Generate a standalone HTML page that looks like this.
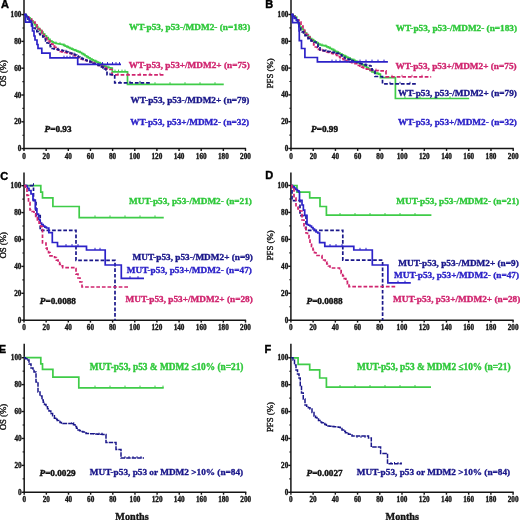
<!DOCTYPE html><html><head><meta charset="utf-8"><style>html,body{margin:0;padding:0;background:#fff;width:520px;height:520px;overflow:hidden}svg{display:block;will-change:transform}</style></head><body>
<svg width="520" height="520" viewBox="0 0 520 520" font-family='"Liberation Serif", serif'>
<rect width="520" height="520" fill="#fff"/>
<line x1="24.00" y1="0.00" x2="24.00" y2="149.20" stroke="#151515" stroke-width="1.5"/>
<line x1="23.30" y1="148.60" x2="246.10" y2="148.60" stroke="#151515" stroke-width="1.5"/>
<line x1="21.40" y1="148.60" x2="24.00" y2="148.60" stroke="#151515" stroke-width="1.4"/>
<text x="21.40" y="151.10" fill="#151515" stroke="#151515" stroke-width="0.35" font-size="7.2" font-weight="bold" text-anchor="end" >0</text>
<line x1="21.40" y1="121.80" x2="24.00" y2="121.80" stroke="#151515" stroke-width="1.4"/>
<text x="21.40" y="124.30" fill="#151515" stroke="#151515" stroke-width="0.35" font-size="7.2" font-weight="bold" text-anchor="end" >20</text>
<line x1="21.40" y1="95.00" x2="24.00" y2="95.00" stroke="#151515" stroke-width="1.4"/>
<text x="21.40" y="97.50" fill="#151515" stroke="#151515" stroke-width="0.35" font-size="7.2" font-weight="bold" text-anchor="end" >40</text>
<line x1="21.40" y1="68.20" x2="24.00" y2="68.20" stroke="#151515" stroke-width="1.4"/>
<text x="21.40" y="70.70" fill="#151515" stroke="#151515" stroke-width="0.35" font-size="7.2" font-weight="bold" text-anchor="end" >60</text>
<line x1="21.40" y1="41.40" x2="24.00" y2="41.40" stroke="#151515" stroke-width="1.4"/>
<text x="21.40" y="43.90" fill="#151515" stroke="#151515" stroke-width="0.35" font-size="7.2" font-weight="bold" text-anchor="end" >80</text>
<line x1="21.40" y1="14.60" x2="24.00" y2="14.60" stroke="#151515" stroke-width="1.4"/>
<text x="21.40" y="17.10" fill="#151515" stroke="#151515" stroke-width="0.35" font-size="7.2" font-weight="bold" text-anchor="end" >100</text>
<line x1="22.40" y1="135.20" x2="24.00" y2="135.20" stroke="#151515" stroke-width="1.1"/>
<line x1="22.40" y1="108.40" x2="24.00" y2="108.40" stroke="#151515" stroke-width="1.1"/>
<line x1="22.40" y1="81.60" x2="24.00" y2="81.60" stroke="#151515" stroke-width="1.1"/>
<line x1="22.40" y1="54.80" x2="24.00" y2="54.80" stroke="#151515" stroke-width="1.1"/>
<line x1="22.40" y1="28.00" x2="24.00" y2="28.00" stroke="#151515" stroke-width="1.1"/>
<line x1="24.00" y1="148.60" x2="24.00" y2="151.00" stroke="#151515" stroke-width="1.4"/>
<text x="24.00" y="158.60" fill="#151515" stroke="#151515" stroke-width="0.35" font-size="7.2" font-weight="bold" text-anchor="middle" >0</text>
<line x1="46.15" y1="148.60" x2="46.15" y2="151.00" stroke="#151515" stroke-width="1.4"/>
<text x="46.15" y="158.60" fill="#151515" stroke="#151515" stroke-width="0.35" font-size="7.2" font-weight="bold" text-anchor="middle" >20</text>
<line x1="68.30" y1="148.60" x2="68.30" y2="151.00" stroke="#151515" stroke-width="1.4"/>
<text x="68.30" y="158.60" fill="#151515" stroke="#151515" stroke-width="0.35" font-size="7.2" font-weight="bold" text-anchor="middle" >40</text>
<line x1="90.45" y1="148.60" x2="90.45" y2="151.00" stroke="#151515" stroke-width="1.4"/>
<text x="90.45" y="158.60" fill="#151515" stroke="#151515" stroke-width="0.35" font-size="7.2" font-weight="bold" text-anchor="middle" >60</text>
<line x1="112.60" y1="148.60" x2="112.60" y2="151.00" stroke="#151515" stroke-width="1.4"/>
<text x="112.60" y="158.60" fill="#151515" stroke="#151515" stroke-width="0.35" font-size="7.2" font-weight="bold" text-anchor="middle" >80</text>
<line x1="134.75" y1="148.60" x2="134.75" y2="151.00" stroke="#151515" stroke-width="1.4"/>
<text x="134.75" y="158.60" fill="#151515" stroke="#151515" stroke-width="0.35" font-size="7.2" font-weight="bold" text-anchor="middle" >100</text>
<line x1="156.90" y1="148.60" x2="156.90" y2="151.00" stroke="#151515" stroke-width="1.4"/>
<text x="156.90" y="158.60" fill="#151515" stroke="#151515" stroke-width="0.35" font-size="7.2" font-weight="bold" text-anchor="middle" >120</text>
<line x1="179.05" y1="148.60" x2="179.05" y2="151.00" stroke="#151515" stroke-width="1.4"/>
<text x="179.05" y="158.60" fill="#151515" stroke="#151515" stroke-width="0.35" font-size="7.2" font-weight="bold" text-anchor="middle" >140</text>
<line x1="201.20" y1="148.60" x2="201.20" y2="151.00" stroke="#151515" stroke-width="1.4"/>
<text x="201.20" y="158.60" fill="#151515" stroke="#151515" stroke-width="0.35" font-size="7.2" font-weight="bold" text-anchor="middle" >160</text>
<line x1="223.35" y1="148.60" x2="223.35" y2="151.00" stroke="#151515" stroke-width="1.4"/>
<text x="223.35" y="158.60" fill="#151515" stroke="#151515" stroke-width="0.35" font-size="7.2" font-weight="bold" text-anchor="middle" >180</text>
<line x1="245.50" y1="148.60" x2="245.50" y2="151.00" stroke="#151515" stroke-width="1.4"/>
<text x="245.50" y="158.60" fill="#151515" stroke="#151515" stroke-width="0.35" font-size="7.2" font-weight="bold" text-anchor="middle" >200</text>
<text x="0" y="0" fill="#151515" font-size="8.8" font-weight="normal" stroke="#151515" stroke-width="0.4" text-anchor="middle" transform="translate(5.80,73.30) rotate(-90)">OS (%)</text>
<text x="1.00" y="8.00" fill="#000" stroke="#000" stroke-width="0.4" font-size="11" font-weight="bold" font-family="Liberation Sans, sans-serif">A</text>
<path d="M24.00 14.60 H25.50 V15.70 H27.00 V16.80 H28.50 V17.90 H30.00 V19.00 H31.50 V20.88 H33.00 V22.75 H34.50 V24.62 H36.00 V26.50 H37.75 V28.38 H39.50 V30.25 H41.25 V32.12 H43.00 V34.00 H44.75 V35.75 H46.50 V37.50 H48.25 V39.25 H50.00 V41.00 H51.50 V41.75 H53.00 V42.50 H54.50 V43.00 H56.00 V43.50 H57.50 V43.75 H59.00 V44.00 H60.50 V44.25 H62.00 V44.50 H63.60 V45.30 H65.20 V46.10 H66.80 V46.90 H68.40 V47.70 H70.00 V48.50 H71.67 V49.17 H73.33 V49.83 H75.00 V50.50 H76.67 V51.17 H78.33 V51.83 H80.00 V52.50 H81.67 V53.58 H83.33 V54.67 H85.00 V55.75 H86.67 V56.83 H88.33 V57.92 H90.00 V59.00 H91.67 V59.78 H93.33 V60.57 H95.00 V61.35 H96.67 V62.13 H98.33 V62.92 H100.00 V63.70 H101.50 V64.53 H103.00 V65.35 H104.50 V66.17 H106.00 V67.00 H107.58 V67.38 H109.15 V67.75 H110.72 V68.12 H112.30 V68.50 H112.30 V71.80 H127.50 V84.40 H223.75" fill="none" stroke="#3fcc48" stroke-width="1.7" stroke-linejoin="miter" stroke-linecap="butt" />
<line x1="44.00" y1="33.00" x2="44.00" y2="35.00" stroke="#3fcc48" stroke-width="0.9"/>
<line x1="48.00" y1="37.00" x2="48.00" y2="39.00" stroke="#3fcc48" stroke-width="0.9"/>
<line x1="52.00" y1="40.00" x2="52.00" y2="42.00" stroke="#3fcc48" stroke-width="0.9"/>
<line x1="56.00" y1="41.50" x2="56.00" y2="43.50" stroke="#3fcc48" stroke-width="0.9"/>
<line x1="60.00" y1="42.17" x2="60.00" y2="44.17" stroke="#3fcc48" stroke-width="0.9"/>
<line x1="64.00" y1="43.50" x2="64.00" y2="45.50" stroke="#3fcc48" stroke-width="0.9"/>
<line x1="68.00" y1="45.50" x2="68.00" y2="47.50" stroke="#3fcc48" stroke-width="0.9"/>
<line x1="72.00" y1="47.30" x2="72.00" y2="49.30" stroke="#3fcc48" stroke-width="0.9"/>
<line x1="76.00" y1="48.90" x2="76.00" y2="50.90" stroke="#3fcc48" stroke-width="0.9"/>
<line x1="80.00" y1="50.50" x2="80.00" y2="52.50" stroke="#3fcc48" stroke-width="0.9"/>
<line x1="84.00" y1="53.10" x2="84.00" y2="55.10" stroke="#3fcc48" stroke-width="0.9"/>
<line x1="88.00" y1="55.70" x2="88.00" y2="57.70" stroke="#3fcc48" stroke-width="0.9"/>
<line x1="92.00" y1="57.94" x2="92.00" y2="59.94" stroke="#3fcc48" stroke-width="0.9"/>
<line x1="96.00" y1="59.82" x2="96.00" y2="61.82" stroke="#3fcc48" stroke-width="0.9"/>
<line x1="100.00" y1="61.70" x2="100.00" y2="63.70" stroke="#3fcc48" stroke-width="0.9"/>
<line x1="104.00" y1="63.90" x2="104.00" y2="65.90" stroke="#3fcc48" stroke-width="0.9"/>
<line x1="108.00" y1="65.48" x2="108.00" y2="67.48" stroke="#3fcc48" stroke-width="0.9"/>
<path d="M24.00 14.60 H25.50 V15.70 H27.00 V16.80 H28.50 V17.90 H30.00 V19.00 H31.50 V20.50 H33.00 V22.00 H35.00 V24.75 H37.00 V27.50 H38.50 V29.00 H40.00 V30.50 H42.00 V33.50 H44.00 V36.50 H45.50 V38.00 H47.00 V39.50 H48.50 V41.00 H50.00 V42.50 H51.50 V44.12 H53.00 V45.75 H54.50 V47.38 H56.00 V49.00 H58.00 V50.25 H60.00 V51.50 H61.67 V51.83 H63.33 V52.17 H65.00 V52.50 H66.75 V52.88 H68.50 V53.25 H70.25 V53.62 H72.00 V54.00 H73.50 V55.00 H75.00 V56.00 H76.50 V57.00 H78.00 V58.00 H79.50 V58.50 H81.00 V59.00 H82.50 V59.50 H84.00 V60.00 H85.50 V60.50 H87.00 V61.00 H88.50 V61.50 H90.00 V62.00 H91.67 V62.67 H93.33 V63.33 H95.00 V64.00 H96.67 V64.67 H98.33 V65.33 H100.00 V66.00 H101.60 V66.70 H103.20 V67.40 H104.80 V68.10 H106.40 V68.80 H108.00 V69.50 H112.00 V74.80 H164.40" fill="none" stroke="#d0256f" stroke-width="1.7" stroke-dasharray="3.7 1.9" stroke-linejoin="miter" stroke-linecap="butt" />
<line x1="46.00" y1="36.50" x2="46.00" y2="38.50" stroke="#d0256f" stroke-width="0.9"/>
<line x1="54.00" y1="44.83" x2="54.00" y2="46.83" stroke="#d0256f" stroke-width="0.9"/>
<line x1="62.00" y1="49.90" x2="62.00" y2="51.90" stroke="#d0256f" stroke-width="0.9"/>
<line x1="70.00" y1="51.57" x2="70.00" y2="53.57" stroke="#d0256f" stroke-width="0.9"/>
<line x1="78.00" y1="56.00" x2="78.00" y2="58.00" stroke="#d0256f" stroke-width="0.9"/>
<line x1="86.00" y1="58.67" x2="86.00" y2="60.67" stroke="#d0256f" stroke-width="0.9"/>
<line x1="94.00" y1="61.60" x2="94.00" y2="63.60" stroke="#d0256f" stroke-width="0.9"/>
<line x1="102.00" y1="64.88" x2="102.00" y2="66.88" stroke="#d0256f" stroke-width="0.9"/>
<line x1="106.00" y1="66.62" x2="106.00" y2="68.62" stroke="#d0256f" stroke-width="0.9"/>
<line x1="118.00" y1="72.80" x2="118.00" y2="74.80" stroke="#d0256f" stroke-width="0.9"/>
<line x1="128.00" y1="72.80" x2="128.00" y2="74.80" stroke="#d0256f" stroke-width="0.9"/>
<line x1="140.00" y1="72.80" x2="140.00" y2="74.80" stroke="#d0256f" stroke-width="0.9"/>
<line x1="150.00" y1="72.80" x2="150.00" y2="74.80" stroke="#d0256f" stroke-width="0.9"/>
<line x1="160.00" y1="72.80" x2="160.00" y2="74.80" stroke="#d0256f" stroke-width="0.9"/>
<path d="M24.00 14.60 H26.00 V17.30 H28.00 V20.00 H29.50 V22.00 H31.00 V24.00 H32.25 V26.00 H33.50 V28.00 H35.17 V29.83 H36.83 V31.67 H38.50 V33.50 H39.93 V34.67 H41.37 V35.83 H42.80 V37.00 H44.20 V39.00 H45.60 V41.00 H47.00 V43.00 H48.67 V44.83 H50.33 V46.67 H52.00 V48.50 H53.67 V48.83 H55.33 V49.17 H57.00 V49.50 H58.67 V49.83 H60.33 V50.17 H62.00 V50.50 H63.60 V51.00 H65.20 V51.50 H66.80 V52.00 H68.40 V52.50 H70.00 V53.00 H71.67 V53.67 H73.33 V54.33 H75.00 V55.00 H76.67 V56.00 H78.33 V57.00 H80.00 V58.00 H81.67 V58.67 H83.33 V59.33 H85.00 V60.00 H86.67 V60.67 H88.33 V61.33 H90.00 V62.00 H91.67 V62.67 H93.33 V63.33 H95.00 V64.00 H96.67 V64.67 H98.33 V65.33 H100.00 V66.00 H101.50 V67.00 H103.00 V68.00 H104.50 V69.00 H106.00 V70.00 H107.00 V74.70 H114.70 V82.90 H150.60" fill="none" stroke="#1a178a" stroke-width="1.7" stroke-dasharray="3.7 1.9" stroke-linejoin="miter" stroke-linecap="butt" />
<line x1="50.00" y1="44.30" x2="50.00" y2="46.30" stroke="#1a178a" stroke-width="0.9"/>
<line x1="58.00" y1="47.70" x2="58.00" y2="49.70" stroke="#1a178a" stroke-width="0.9"/>
<line x1="66.00" y1="49.75" x2="66.00" y2="51.75" stroke="#1a178a" stroke-width="0.9"/>
<line x1="74.00" y1="52.60" x2="74.00" y2="54.60" stroke="#1a178a" stroke-width="0.9"/>
<line x1="82.00" y1="56.80" x2="82.00" y2="58.80" stroke="#1a178a" stroke-width="0.9"/>
<line x1="90.00" y1="60.00" x2="90.00" y2="62.00" stroke="#1a178a" stroke-width="0.9"/>
<line x1="98.00" y1="63.20" x2="98.00" y2="65.20" stroke="#1a178a" stroke-width="0.9"/>
<line x1="104.00" y1="66.67" x2="104.00" y2="68.67" stroke="#1a178a" stroke-width="0.9"/>
<line x1="110.00" y1="72.70" x2="110.00" y2="74.70" stroke="#1a178a" stroke-width="0.9"/>
<line x1="120.00" y1="80.90" x2="120.00" y2="82.90" stroke="#1a178a" stroke-width="0.9"/>
<line x1="130.00" y1="80.90" x2="130.00" y2="82.90" stroke="#1a178a" stroke-width="0.9"/>
<line x1="140.00" y1="80.90" x2="140.00" y2="82.90" stroke="#1a178a" stroke-width="0.9"/>
<path d="M24.00 14.60 H25.75 V16.55 H27.50 V18.50 H29.25 V20.45 H31.00 V22.40" fill="none" stroke="#2c22c8" stroke-width="1.5" stroke-linejoin="miter" stroke-linecap="butt" />
<path d="M24.00 14.60 H25.50 V22.20 H31.50 V26.00 H32.50 V31.00 H34.00 V36.00 H35.00 V40.00 H37.00 V44.50 H38.00 V48.30 H41.80 V53.10 H50.00 V57.90 H77.70 V64.30 H121.00" fill="none" stroke="#2c22c8" stroke-width="1.7" stroke-linejoin="miter" stroke-linecap="butt" />
<line x1="64.00" y1="55.70" x2="64.00" y2="57.90" stroke="#2c22c8" stroke-width="1.0"/>
<line x1="67.00" y1="55.70" x2="67.00" y2="57.90" stroke="#2c22c8" stroke-width="1.0"/>
<line x1="70.00" y1="55.70" x2="70.00" y2="57.90" stroke="#2c22c8" stroke-width="1.0"/>
<line x1="73.00" y1="55.70" x2="73.00" y2="57.90" stroke="#2c22c8" stroke-width="1.0"/>
<line x1="102.50" y1="62.10" x2="102.50" y2="64.30" stroke="#2c22c8" stroke-width="1.0"/>
<line x1="107.50" y1="62.10" x2="107.50" y2="64.30" stroke="#2c22c8" stroke-width="1.0"/>
<line x1="112.50" y1="62.10" x2="112.50" y2="64.30" stroke="#2c22c8" stroke-width="1.0"/>
<line x1="116.00" y1="62.10" x2="116.00" y2="64.30" stroke="#2c22c8" stroke-width="1.0"/>
<line x1="119.50" y1="62.10" x2="119.50" y2="64.30" stroke="#2c22c8" stroke-width="1.0"/>
<line x1="140.00" y1="82.20" x2="140.00" y2="84.40" stroke="#3fcc48" stroke-width="1.0"/>
<line x1="155.00" y1="82.20" x2="155.00" y2="84.40" stroke="#3fcc48" stroke-width="1.0"/>
<line x1="170.00" y1="82.20" x2="170.00" y2="84.40" stroke="#3fcc48" stroke-width="1.0"/>
<line x1="185.00" y1="82.20" x2="185.00" y2="84.40" stroke="#3fcc48" stroke-width="1.0"/>
<line x1="200.00" y1="82.20" x2="200.00" y2="84.40" stroke="#3fcc48" stroke-width="1.0"/>
<line x1="215.00" y1="82.20" x2="215.00" y2="84.40" stroke="#3fcc48" stroke-width="1.0"/>
<line x1="115.00" y1="69.60" x2="115.00" y2="71.80" stroke="#3fcc48" stroke-width="1.0"/>
<line x1="118.50" y1="69.60" x2="118.50" y2="71.80" stroke="#3fcc48" stroke-width="1.0"/>
<line x1="122.00" y1="69.60" x2="122.00" y2="71.80" stroke="#3fcc48" stroke-width="1.0"/>
<line x1="125.00" y1="69.60" x2="125.00" y2="71.80" stroke="#3fcc48" stroke-width="1.0"/>
<text x="128.90" y="29.90" fill="#2ec83a" stroke="#2ec83a" stroke-width="0.35" font-size="9.25" font-weight="bold" text-anchor="start" >WT-p53, p53-/MDM2- (n=183)</text>
<text x="128.70" y="68.25" fill="#d0256f" stroke="#d0256f" stroke-width="0.35" font-size="9.25" font-weight="bold" text-anchor="start" >WT-p53, p53+/MDM2+ (n=75)</text>
<text x="130.50" y="102.60" fill="#1a178a" stroke="#1a178a" stroke-width="0.35" font-size="9.25" font-weight="bold" text-anchor="start" >WT-p53, p53-/MDM2+ (n=79)</text>
<text x="130.30" y="124.60" fill="#2c22c8" stroke="#2c22c8" stroke-width="0.35" font-size="9.25" font-weight="bold" text-anchor="start" >WT-p53, p53+/MDM2- (n=32)</text>
<text x="44.60" y="131.90" fill="#111" stroke="#111" stroke-width="0.4" font-size="9.2" font-weight="bold"><tspan font-style="italic">P</tspan>=0.93</text>
<line x1="291.00" y1="0.00" x2="291.00" y2="149.10" stroke="#151515" stroke-width="1.5"/>
<line x1="290.30" y1="148.50" x2="513.80" y2="148.50" stroke="#151515" stroke-width="1.5"/>
<line x1="288.40" y1="148.50" x2="291.00" y2="148.50" stroke="#151515" stroke-width="1.4"/>
<text x="288.40" y="151.00" fill="#151515" stroke="#151515" stroke-width="0.35" font-size="7.2" font-weight="bold" text-anchor="end" >0</text>
<line x1="288.40" y1="121.70" x2="291.00" y2="121.70" stroke="#151515" stroke-width="1.4"/>
<text x="288.40" y="124.20" fill="#151515" stroke="#151515" stroke-width="0.35" font-size="7.2" font-weight="bold" text-anchor="end" >20</text>
<line x1="288.40" y1="94.90" x2="291.00" y2="94.90" stroke="#151515" stroke-width="1.4"/>
<text x="288.40" y="97.40" fill="#151515" stroke="#151515" stroke-width="0.35" font-size="7.2" font-weight="bold" text-anchor="end" >40</text>
<line x1="288.40" y1="68.10" x2="291.00" y2="68.10" stroke="#151515" stroke-width="1.4"/>
<text x="288.40" y="70.60" fill="#151515" stroke="#151515" stroke-width="0.35" font-size="7.2" font-weight="bold" text-anchor="end" >60</text>
<line x1="288.40" y1="41.30" x2="291.00" y2="41.30" stroke="#151515" stroke-width="1.4"/>
<text x="288.40" y="43.80" fill="#151515" stroke="#151515" stroke-width="0.35" font-size="7.2" font-weight="bold" text-anchor="end" >80</text>
<line x1="288.40" y1="14.50" x2="291.00" y2="14.50" stroke="#151515" stroke-width="1.4"/>
<text x="288.40" y="17.00" fill="#151515" stroke="#151515" stroke-width="0.35" font-size="7.2" font-weight="bold" text-anchor="end" >100</text>
<line x1="289.40" y1="135.10" x2="291.00" y2="135.10" stroke="#151515" stroke-width="1.1"/>
<line x1="289.40" y1="108.30" x2="291.00" y2="108.30" stroke="#151515" stroke-width="1.1"/>
<line x1="289.40" y1="81.50" x2="291.00" y2="81.50" stroke="#151515" stroke-width="1.1"/>
<line x1="289.40" y1="54.70" x2="291.00" y2="54.70" stroke="#151515" stroke-width="1.1"/>
<line x1="289.40" y1="27.90" x2="291.00" y2="27.90" stroke="#151515" stroke-width="1.1"/>
<line x1="291.00" y1="148.50" x2="291.00" y2="150.90" stroke="#151515" stroke-width="1.4"/>
<text x="291.00" y="158.50" fill="#151515" stroke="#151515" stroke-width="0.35" font-size="7.2" font-weight="bold" text-anchor="middle" >0</text>
<line x1="313.22" y1="148.50" x2="313.22" y2="150.90" stroke="#151515" stroke-width="1.4"/>
<text x="313.22" y="158.50" fill="#151515" stroke="#151515" stroke-width="0.35" font-size="7.2" font-weight="bold" text-anchor="middle" >20</text>
<line x1="335.44" y1="148.50" x2="335.44" y2="150.90" stroke="#151515" stroke-width="1.4"/>
<text x="335.44" y="158.50" fill="#151515" stroke="#151515" stroke-width="0.35" font-size="7.2" font-weight="bold" text-anchor="middle" >40</text>
<line x1="357.66" y1="148.50" x2="357.66" y2="150.90" stroke="#151515" stroke-width="1.4"/>
<text x="357.66" y="158.50" fill="#151515" stroke="#151515" stroke-width="0.35" font-size="7.2" font-weight="bold" text-anchor="middle" >60</text>
<line x1="379.88" y1="148.50" x2="379.88" y2="150.90" stroke="#151515" stroke-width="1.4"/>
<text x="379.88" y="158.50" fill="#151515" stroke="#151515" stroke-width="0.35" font-size="7.2" font-weight="bold" text-anchor="middle" >80</text>
<line x1="402.10" y1="148.50" x2="402.10" y2="150.90" stroke="#151515" stroke-width="1.4"/>
<text x="402.10" y="158.50" fill="#151515" stroke="#151515" stroke-width="0.35" font-size="7.2" font-weight="bold" text-anchor="middle" >100</text>
<line x1="424.32" y1="148.50" x2="424.32" y2="150.90" stroke="#151515" stroke-width="1.4"/>
<text x="424.32" y="158.50" fill="#151515" stroke="#151515" stroke-width="0.35" font-size="7.2" font-weight="bold" text-anchor="middle" >120</text>
<line x1="446.54" y1="148.50" x2="446.54" y2="150.90" stroke="#151515" stroke-width="1.4"/>
<text x="446.54" y="158.50" fill="#151515" stroke="#151515" stroke-width="0.35" font-size="7.2" font-weight="bold" text-anchor="middle" >140</text>
<line x1="468.76" y1="148.50" x2="468.76" y2="150.90" stroke="#151515" stroke-width="1.4"/>
<text x="468.76" y="158.50" fill="#151515" stroke="#151515" stroke-width="0.35" font-size="7.2" font-weight="bold" text-anchor="middle" >160</text>
<line x1="490.98" y1="148.50" x2="490.98" y2="150.90" stroke="#151515" stroke-width="1.4"/>
<text x="490.98" y="158.50" fill="#151515" stroke="#151515" stroke-width="0.35" font-size="7.2" font-weight="bold" text-anchor="middle" >180</text>
<line x1="513.20" y1="148.50" x2="513.20" y2="150.90" stroke="#151515" stroke-width="1.4"/>
<text x="513.20" y="158.50" fill="#151515" stroke="#151515" stroke-width="0.35" font-size="7.2" font-weight="bold" text-anchor="middle" >200</text>
<text x="0" y="0" fill="#151515" font-size="8.8" font-weight="normal" stroke="#151515" stroke-width="0.4" text-anchor="middle" transform="translate(272.80,73.25) rotate(-90)">PFS (%)</text>
<text x="265.30" y="8.40" fill="#000" stroke="#000" stroke-width="0.4" font-size="11" font-weight="bold" font-family="Liberation Sans, sans-serif">B</text>
<path d="M291.00 14.50 H293.00 V15.75 H295.00 V17.00 H296.67 V20.33 H298.33 V23.67 H300.00 V27.00 H301.67 V29.00 H303.33 V31.00 H305.00 V33.00 H306.67 V34.83 H308.33 V36.67 H310.00 V38.50 H311.67 V39.67 H313.33 V40.83 H315.00 V42.00 H316.67 V43.00 H318.33 V44.00 H320.00 V45.00 H321.67 V45.33 H323.33 V45.67 H325.00 V46.00 H326.67 V46.83 H328.33 V47.67 H330.00 V48.50 H331.67 V49.42 H333.33 V50.33 H335.00 V51.25 H336.67 V52.17 H338.33 V53.08 H340.00 V54.00 H341.67 V54.83 H343.33 V55.67 H345.00 V56.50 H346.67 V57.33 H348.33 V58.17 H350.00 V59.00 H351.67 V59.67 H353.33 V60.33 H355.00 V61.00 H356.67 V61.92 H358.33 V62.83 H360.00 V63.75 H361.67 V64.67 H363.33 V65.58 H365.00 V66.50 H366.75 V67.88 H368.50 V69.25 H370.25 V70.62 H372.00 V72.00 H373.68 V72.52 H375.36 V73.04 H377.04 V73.56 H378.72 V74.08 H380.40 V74.60 H380.40 V77.70 H395.40 V98.50 H469.20" fill="none" stroke="#3fcc48" stroke-width="1.7" stroke-linejoin="miter" stroke-linecap="butt" />
<line x1="310.00" y1="36.50" x2="310.00" y2="38.50" stroke="#3fcc48" stroke-width="0.9"/>
<line x1="314.00" y1="39.30" x2="314.00" y2="41.30" stroke="#3fcc48" stroke-width="0.9"/>
<line x1="318.00" y1="41.80" x2="318.00" y2="43.80" stroke="#3fcc48" stroke-width="0.9"/>
<line x1="322.00" y1="43.40" x2="322.00" y2="45.40" stroke="#3fcc48" stroke-width="0.9"/>
<line x1="326.00" y1="44.50" x2="326.00" y2="46.50" stroke="#3fcc48" stroke-width="0.9"/>
<line x1="330.00" y1="46.50" x2="330.00" y2="48.50" stroke="#3fcc48" stroke-width="0.9"/>
<line x1="334.00" y1="48.70" x2="334.00" y2="50.70" stroke="#3fcc48" stroke-width="0.9"/>
<line x1="338.00" y1="50.90" x2="338.00" y2="52.90" stroke="#3fcc48" stroke-width="0.9"/>
<line x1="342.00" y1="53.00" x2="342.00" y2="55.00" stroke="#3fcc48" stroke-width="0.9"/>
<line x1="346.00" y1="55.00" x2="346.00" y2="57.00" stroke="#3fcc48" stroke-width="0.9"/>
<line x1="350.00" y1="57.00" x2="350.00" y2="59.00" stroke="#3fcc48" stroke-width="0.9"/>
<line x1="354.00" y1="58.60" x2="354.00" y2="60.60" stroke="#3fcc48" stroke-width="0.9"/>
<line x1="358.00" y1="60.65" x2="358.00" y2="62.65" stroke="#3fcc48" stroke-width="0.9"/>
<line x1="362.00" y1="62.85" x2="362.00" y2="64.85" stroke="#3fcc48" stroke-width="0.9"/>
<line x1="366.00" y1="65.29" x2="366.00" y2="67.29" stroke="#3fcc48" stroke-width="0.9"/>
<line x1="370.00" y1="68.43" x2="370.00" y2="70.43" stroke="#3fcc48" stroke-width="0.9"/>
<line x1="374.00" y1="70.62" x2="374.00" y2="72.62" stroke="#3fcc48" stroke-width="0.9"/>
<line x1="378.00" y1="71.86" x2="378.00" y2="73.86" stroke="#3fcc48" stroke-width="0.9"/>
<path d="M291.00 14.50 H293.00 V16.25 H295.00 V18.00 H297.00 V20.00 H299.00 V22.00 H301.00 V26.00 H303.00 V30.00 H304.67 V32.33 H306.33 V34.67 H308.00 V37.00 H310.00 V40.00 H312.00 V43.00 H313.67 V45.00 H315.33 V47.00 H317.00 V49.00 H318.50 V49.50 H320.00 V50.00 H321.67 V50.50 H323.33 V51.00 H325.00 V51.50 H326.67 V51.98 H328.33 V52.47 H330.00 V52.95 H331.67 V53.43 H333.33 V53.92 H335.00 V54.40 H336.67 V55.47 H338.33 V56.53 H340.00 V57.60 H341.67 V58.67 H343.33 V59.73 H345.00 V60.80 H346.67 V61.28 H348.33 V61.77 H350.00 V62.25 H351.67 V62.73 H353.33 V63.22 H355.00 V63.70 H356.67 V64.55 H358.33 V65.40 H360.00 V66.25 H361.67 V67.10 H363.33 V67.95 H365.00 V68.80 H366.67 V69.27 H368.33 V69.73 H370.00 V70.20 H371.67 V70.30 H373.33 V70.40 H375.00 V70.50 H376.67 V70.60 H378.33 V70.70 H380.00 V70.80 H386.00 V76.80 H431.20" fill="none" stroke="#d0256f" stroke-width="1.7" stroke-dasharray="3.7 1.9" stroke-linejoin="miter" stroke-linecap="butt" />
<line x1="314.00" y1="43.40" x2="314.00" y2="45.40" stroke="#d0256f" stroke-width="0.9"/>
<line x1="322.00" y1="48.60" x2="322.00" y2="50.60" stroke="#d0256f" stroke-width="0.9"/>
<line x1="330.00" y1="50.95" x2="330.00" y2="52.95" stroke="#d0256f" stroke-width="0.9"/>
<line x1="338.00" y1="54.32" x2="338.00" y2="56.32" stroke="#d0256f" stroke-width="0.9"/>
<line x1="346.00" y1="59.09" x2="346.00" y2="61.09" stroke="#d0256f" stroke-width="0.9"/>
<line x1="354.00" y1="61.41" x2="354.00" y2="63.41" stroke="#d0256f" stroke-width="0.9"/>
<line x1="362.00" y1="65.27" x2="362.00" y2="67.27" stroke="#d0256f" stroke-width="0.9"/>
<line x1="370.00" y1="68.20" x2="370.00" y2="70.20" stroke="#d0256f" stroke-width="0.9"/>
<line x1="376.00" y1="68.56" x2="376.00" y2="70.56" stroke="#d0256f" stroke-width="0.9"/>
<line x1="392.00" y1="74.80" x2="392.00" y2="76.80" stroke="#d0256f" stroke-width="0.9"/>
<line x1="402.00" y1="74.80" x2="402.00" y2="76.80" stroke="#d0256f" stroke-width="0.9"/>
<line x1="412.00" y1="74.80" x2="412.00" y2="76.80" stroke="#d0256f" stroke-width="0.9"/>
<line x1="422.00" y1="74.80" x2="422.00" y2="76.80" stroke="#d0256f" stroke-width="0.9"/>
<path d="M291.00 14.50 H292.67 V16.33 H294.33 V18.17 H296.00 V20.00 H297.53 V23.33 H299.07 V26.67 H300.60 V30.00 H302.08 V31.88 H303.55 V33.75 H305.02 V35.62 H306.50 V37.50 H308.00 V38.67 H309.50 V39.83 H311.00 V41.00 H312.50 V41.50 H314.00 V42.00 H316.00 V44.00 H318.00 V47.00 H320.00 V50.00 H321.67 V50.33 H323.33 V50.67 H325.00 V51.00 H326.67 V51.33 H328.33 V51.67 H330.00 V52.00 H331.60 V52.30 H333.20 V52.60 H334.80 V52.90 H336.40 V53.20 H338.00 V53.50 H339.75 V54.75 H341.50 V56.00 H343.25 V57.25 H345.00 V58.50 H346.67 V59.08 H348.33 V59.67 H350.00 V60.25 H351.67 V60.83 H353.33 V61.42 H355.00 V62.00 H356.67 V62.50 H358.33 V63.00 H360.00 V63.50 H361.67 V64.00 H363.33 V64.50 H365.00 V65.00 H366.67 V65.33 H368.33 V65.67 H370.00 V66.00 H372.00 V70.00 H375.00 V76.50 H382.50 V83.80 H416.70" fill="none" stroke="#1a178a" stroke-width="1.7" stroke-dasharray="3.7 1.9" stroke-linejoin="miter" stroke-linecap="butt" />
<line x1="318.00" y1="45.00" x2="318.00" y2="47.00" stroke="#1a178a" stroke-width="0.9"/>
<line x1="326.00" y1="49.20" x2="326.00" y2="51.20" stroke="#1a178a" stroke-width="0.9"/>
<line x1="334.00" y1="50.75" x2="334.00" y2="52.75" stroke="#1a178a" stroke-width="0.9"/>
<line x1="342.00" y1="54.36" x2="342.00" y2="56.36" stroke="#1a178a" stroke-width="0.9"/>
<line x1="350.00" y1="58.25" x2="350.00" y2="60.25" stroke="#1a178a" stroke-width="0.9"/>
<line x1="358.00" y1="60.90" x2="358.00" y2="62.90" stroke="#1a178a" stroke-width="0.9"/>
<line x1="366.00" y1="63.20" x2="366.00" y2="65.20" stroke="#1a178a" stroke-width="0.9"/>
<line x1="372.00" y1="68.00" x2="372.00" y2="70.00" stroke="#1a178a" stroke-width="0.9"/>
<line x1="390.00" y1="81.80" x2="390.00" y2="83.80" stroke="#1a178a" stroke-width="0.9"/>
<line x1="400.00" y1="81.80" x2="400.00" y2="83.80" stroke="#1a178a" stroke-width="0.9"/>
<line x1="410.00" y1="81.80" x2="410.00" y2="83.80" stroke="#1a178a" stroke-width="0.9"/>
<path d="M291.00 14.50 H292.75 V16.45 H294.50 V18.40 H296.25 V20.35 H298.00 V22.30" fill="none" stroke="#2c22c8" stroke-width="1.5" stroke-linejoin="miter" stroke-linecap="butt" />
<path d="M291.00 14.50 H292.50 V22.60 H299.00 V31.00 H299.30 V40.60 H301.50 V48.50 H304.90 V57.50 H317.40 V61.80 H387.90" fill="none" stroke="#2c22c8" stroke-width="1.7" stroke-linejoin="miter" stroke-linecap="butt" />
<line x1="332.00" y1="59.60" x2="332.00" y2="61.80" stroke="#2c22c8" stroke-width="1.0"/>
<line x1="336.00" y1="59.60" x2="336.00" y2="61.80" stroke="#2c22c8" stroke-width="1.0"/>
<line x1="340.00" y1="59.60" x2="340.00" y2="61.80" stroke="#2c22c8" stroke-width="1.0"/>
<line x1="345.00" y1="59.60" x2="345.00" y2="61.80" stroke="#2c22c8" stroke-width="1.0"/>
<line x1="352.00" y1="59.60" x2="352.00" y2="61.80" stroke="#2c22c8" stroke-width="1.0"/>
<line x1="360.00" y1="59.60" x2="360.00" y2="61.80" stroke="#2c22c8" stroke-width="1.0"/>
<line x1="366.00" y1="59.60" x2="366.00" y2="61.80" stroke="#2c22c8" stroke-width="1.0"/>
<line x1="372.00" y1="59.60" x2="372.00" y2="61.80" stroke="#2c22c8" stroke-width="1.0"/>
<line x1="378.00" y1="59.60" x2="378.00" y2="61.80" stroke="#2c22c8" stroke-width="1.0"/>
<line x1="384.00" y1="59.60" x2="384.00" y2="61.80" stroke="#2c22c8" stroke-width="1.0"/>
<line x1="405.00" y1="96.30" x2="405.00" y2="98.50" stroke="#3fcc48" stroke-width="1.0"/>
<line x1="420.00" y1="96.30" x2="420.00" y2="98.50" stroke="#3fcc48" stroke-width="1.0"/>
<line x1="435.00" y1="96.30" x2="435.00" y2="98.50" stroke="#3fcc48" stroke-width="1.0"/>
<line x1="450.00" y1="96.30" x2="450.00" y2="98.50" stroke="#3fcc48" stroke-width="1.0"/>
<text x="395.75" y="30.50" fill="#2ec83a" stroke="#2ec83a" stroke-width="0.35" font-size="9.25" font-weight="bold" text-anchor="start" >WT-p53, p53-/MDM2- (n=183)</text>
<text x="395.50" y="68.75" fill="#d0256f" stroke="#d0256f" stroke-width="0.35" font-size="9.25" font-weight="bold" text-anchor="start" >WT-p53, p53+/MDM2+ (n=75)</text>
<text x="398.00" y="95.75" fill="#1a178a" stroke="#1a178a" stroke-width="0.35" font-size="9.25" font-weight="bold" text-anchor="start" >WT-p53, p53-/MDM2+ (n=79)</text>
<text x="398.00" y="124.50" fill="#2c22c8" stroke="#2c22c8" stroke-width="0.35" font-size="9.25" font-weight="bold" text-anchor="start" >WT-p53, p53+/MDM2- (n=32)</text>
<text x="311.10" y="132.00" fill="#111" stroke="#111" stroke-width="0.4" font-size="9.2" font-weight="bold"><tspan font-style="italic">P</tspan>=0.99</text>
<line x1="24.00" y1="172.40" x2="24.00" y2="320.80" stroke="#151515" stroke-width="1.5"/>
<line x1="23.30" y1="320.20" x2="246.10" y2="320.20" stroke="#151515" stroke-width="1.5"/>
<line x1="21.40" y1="320.20" x2="24.00" y2="320.20" stroke="#151515" stroke-width="1.4"/>
<text x="21.40" y="322.70" fill="#151515" stroke="#151515" stroke-width="0.35" font-size="7.2" font-weight="bold" text-anchor="end" >0</text>
<line x1="21.40" y1="293.30" x2="24.00" y2="293.30" stroke="#151515" stroke-width="1.4"/>
<text x="21.40" y="295.80" fill="#151515" stroke="#151515" stroke-width="0.35" font-size="7.2" font-weight="bold" text-anchor="end" >20</text>
<line x1="21.40" y1="266.40" x2="24.00" y2="266.40" stroke="#151515" stroke-width="1.4"/>
<text x="21.40" y="268.90" fill="#151515" stroke="#151515" stroke-width="0.35" font-size="7.2" font-weight="bold" text-anchor="end" >40</text>
<line x1="21.40" y1="239.50" x2="24.00" y2="239.50" stroke="#151515" stroke-width="1.4"/>
<text x="21.40" y="242.00" fill="#151515" stroke="#151515" stroke-width="0.35" font-size="7.2" font-weight="bold" text-anchor="end" >60</text>
<line x1="21.40" y1="212.60" x2="24.00" y2="212.60" stroke="#151515" stroke-width="1.4"/>
<text x="21.40" y="215.10" fill="#151515" stroke="#151515" stroke-width="0.35" font-size="7.2" font-weight="bold" text-anchor="end" >80</text>
<line x1="21.40" y1="185.70" x2="24.00" y2="185.70" stroke="#151515" stroke-width="1.4"/>
<text x="21.40" y="188.20" fill="#151515" stroke="#151515" stroke-width="0.35" font-size="7.2" font-weight="bold" text-anchor="end" >100</text>
<line x1="22.40" y1="306.75" x2="24.00" y2="306.75" stroke="#151515" stroke-width="1.1"/>
<line x1="22.40" y1="279.85" x2="24.00" y2="279.85" stroke="#151515" stroke-width="1.1"/>
<line x1="22.40" y1="252.95" x2="24.00" y2="252.95" stroke="#151515" stroke-width="1.1"/>
<line x1="22.40" y1="226.05" x2="24.00" y2="226.05" stroke="#151515" stroke-width="1.1"/>
<line x1="22.40" y1="199.15" x2="24.00" y2="199.15" stroke="#151515" stroke-width="1.1"/>
<line x1="24.00" y1="320.20" x2="24.00" y2="322.60" stroke="#151515" stroke-width="1.4"/>
<text x="24.00" y="330.20" fill="#151515" stroke="#151515" stroke-width="0.35" font-size="7.2" font-weight="bold" text-anchor="middle" >0</text>
<line x1="46.15" y1="320.20" x2="46.15" y2="322.60" stroke="#151515" stroke-width="1.4"/>
<text x="46.15" y="330.20" fill="#151515" stroke="#151515" stroke-width="0.35" font-size="7.2" font-weight="bold" text-anchor="middle" >20</text>
<line x1="68.30" y1="320.20" x2="68.30" y2="322.60" stroke="#151515" stroke-width="1.4"/>
<text x="68.30" y="330.20" fill="#151515" stroke="#151515" stroke-width="0.35" font-size="7.2" font-weight="bold" text-anchor="middle" >40</text>
<line x1="90.45" y1="320.20" x2="90.45" y2="322.60" stroke="#151515" stroke-width="1.4"/>
<text x="90.45" y="330.20" fill="#151515" stroke="#151515" stroke-width="0.35" font-size="7.2" font-weight="bold" text-anchor="middle" >60</text>
<line x1="112.60" y1="320.20" x2="112.60" y2="322.60" stroke="#151515" stroke-width="1.4"/>
<text x="112.60" y="330.20" fill="#151515" stroke="#151515" stroke-width="0.35" font-size="7.2" font-weight="bold" text-anchor="middle" >80</text>
<line x1="134.75" y1="320.20" x2="134.75" y2="322.60" stroke="#151515" stroke-width="1.4"/>
<text x="134.75" y="330.20" fill="#151515" stroke="#151515" stroke-width="0.35" font-size="7.2" font-weight="bold" text-anchor="middle" >100</text>
<line x1="156.90" y1="320.20" x2="156.90" y2="322.60" stroke="#151515" stroke-width="1.4"/>
<text x="156.90" y="330.20" fill="#151515" stroke="#151515" stroke-width="0.35" font-size="7.2" font-weight="bold" text-anchor="middle" >120</text>
<line x1="179.05" y1="320.20" x2="179.05" y2="322.60" stroke="#151515" stroke-width="1.4"/>
<text x="179.05" y="330.20" fill="#151515" stroke="#151515" stroke-width="0.35" font-size="7.2" font-weight="bold" text-anchor="middle" >140</text>
<line x1="201.20" y1="320.20" x2="201.20" y2="322.60" stroke="#151515" stroke-width="1.4"/>
<text x="201.20" y="330.20" fill="#151515" stroke="#151515" stroke-width="0.35" font-size="7.2" font-weight="bold" text-anchor="middle" >160</text>
<line x1="223.35" y1="320.20" x2="223.35" y2="322.60" stroke="#151515" stroke-width="1.4"/>
<text x="223.35" y="330.20" fill="#151515" stroke="#151515" stroke-width="0.35" font-size="7.2" font-weight="bold" text-anchor="middle" >180</text>
<line x1="245.50" y1="320.20" x2="245.50" y2="322.60" stroke="#151515" stroke-width="1.4"/>
<text x="245.50" y="330.20" fill="#151515" stroke="#151515" stroke-width="0.35" font-size="7.2" font-weight="bold" text-anchor="middle" >200</text>
<text x="0" y="0" fill="#151515" font-size="8.8" font-weight="normal" stroke="#151515" stroke-width="0.4" text-anchor="middle" transform="translate(5.80,245.30) rotate(-90)">OS (%)</text>
<text x="0.30" y="180.40" fill="#000" stroke="#000" stroke-width="0.4" font-size="11" font-weight="bold" font-family="Liberation Sans, sans-serif">C</text>
<path d="M24.00 185.70 H40.80 V192.10 H42.50 V197.90 H52.90 V206.50 H79.20 V217.60 H163.75" fill="none" stroke="#3fcc48" stroke-width="1.7" stroke-linejoin="miter" stroke-linecap="butt" />
<line x1="95.00" y1="215.40" x2="95.00" y2="217.60" stroke="#3fcc48" stroke-width="1.0"/>
<line x1="110.00" y1="215.40" x2="110.00" y2="217.60" stroke="#3fcc48" stroke-width="1.0"/>
<line x1="125.00" y1="215.40" x2="125.00" y2="217.60" stroke="#3fcc48" stroke-width="1.0"/>
<line x1="140.00" y1="215.40" x2="140.00" y2="217.60" stroke="#3fcc48" stroke-width="1.0"/>
<line x1="155.00" y1="215.40" x2="155.00" y2="217.60" stroke="#3fcc48" stroke-width="1.0"/>
<path d="M24.00 185.70 H33.50 V200.60 H36.00 V215.60 H40.20 V230.40 H76.00 V260.30 H115.00 V320.20" fill="none" stroke="#1a178a" stroke-width="1.7" stroke-dasharray="3.7 1.9" stroke-linejoin="miter" stroke-linecap="butt" />
<line x1="33.50" y1="183.20" x2="33.50" y2="185.70" stroke="#1a178a" stroke-width="1.0"/>
<path d="M24.00 185.70 H26.00 V186.00 H27.50 V188.25 H29.00 V190.50 H31.00 V194.00 H33.00 V200.00 H35.30 V208.80 H36.90 V214.05 H38.50 V219.30 H40.00 V223.00 H41.60 V224.60 H43.20 V226.20 H44.80 V227.10 H46.40 V228.00 H48.80 V232.70 H52.30 V242.50 H57.50 V246.30 H86.50 V250.00 H105.20 V265.00 H121.30 V278.40 H144.00" fill="none" stroke="#2c22c8" stroke-width="1.7" stroke-linejoin="miter" stroke-linecap="butt" />
<line x1="66.00" y1="244.10" x2="66.00" y2="246.30" stroke="#2c22c8" stroke-width="1.0"/>
<line x1="72.00" y1="244.10" x2="72.00" y2="246.30" stroke="#2c22c8" stroke-width="1.0"/>
<line x1="78.00" y1="244.10" x2="78.00" y2="246.30" stroke="#2c22c8" stroke-width="1.0"/>
<line x1="95.00" y1="247.80" x2="95.00" y2="250.00" stroke="#2c22c8" stroke-width="1.0"/>
<line x1="100.00" y1="247.80" x2="100.00" y2="250.00" stroke="#2c22c8" stroke-width="1.0"/>
<line x1="130.00" y1="276.20" x2="130.00" y2="278.40" stroke="#2c22c8" stroke-width="1.0"/>
<line x1="138.00" y1="276.20" x2="138.00" y2="278.40" stroke="#2c22c8" stroke-width="1.0"/>
<path d="M24.00 185.70 H25.50 V188.00 H27.00 V195.33 H28.50 V202.67 H30.00 V210.00 H32.00 V211.50 H34.00 V213.00 H35.70 V216.40 H37.40 V219.80 H39.10 V223.20 H40.80 V226.60 H42.50 V230.00 H42.50 V243.00 H46.00 V248.00 H47.10 V249.40 H48.55 V252.60 H50.00 V255.80 H54.60 V257.50 H56.35 V260.10 H58.10 V262.70 H59.63 V264.33 H61.17 V265.97 H62.70 V267.60 H74.80 V268.50 H76.00 V274.20 H78.00 V278.00 H80.00 V282.00 H82.00 V287.00 H129.00" fill="none" stroke="#d0256f" stroke-width="1.7" stroke-dasharray="3.7 1.9" stroke-linejoin="miter" stroke-linecap="butt" />
<text x="129.10" y="204.25" fill="#2ec83a" stroke="#2ec83a" stroke-width="0.35" font-size="9.25" font-weight="bold" text-anchor="start" >MUT-p53, p53-/MDM2- (n=21)</text>
<text x="132.50" y="260.30" fill="#1a178a" stroke="#1a178a" stroke-width="0.35" font-size="9.25" font-weight="bold" text-anchor="start" >MUT-p53, p53-/MDM2+ (n=9)</text>
<text x="126.80" y="272.80" fill="#2c22c8" stroke="#2c22c8" stroke-width="0.35" font-size="9.25" font-weight="bold" text-anchor="start" >MUT-p53, p53+/MDM2- (n=47)</text>
<text x="125.50" y="301.75" fill="#d0256f" stroke="#d0256f" stroke-width="0.35" font-size="9.25" font-weight="bold" text-anchor="start" >MUT-p53, p53+/MDM2+ (n=28)</text>
<text x="39.80" y="303.50" fill="#111" stroke="#111" stroke-width="0.4" font-size="9.2" font-weight="bold"><tspan font-style="italic">P</tspan>=0.0088</text>
<line x1="290.90" y1="172.40" x2="290.90" y2="320.80" stroke="#151515" stroke-width="1.5"/>
<line x1="290.20" y1="320.20" x2="513.70" y2="320.20" stroke="#151515" stroke-width="1.5"/>
<line x1="288.30" y1="320.20" x2="290.90" y2="320.20" stroke="#151515" stroke-width="1.4"/>
<text x="288.30" y="322.70" fill="#151515" stroke="#151515" stroke-width="0.35" font-size="7.2" font-weight="bold" text-anchor="end" >0</text>
<line x1="288.30" y1="293.26" x2="290.90" y2="293.26" stroke="#151515" stroke-width="1.4"/>
<text x="288.30" y="295.76" fill="#151515" stroke="#151515" stroke-width="0.35" font-size="7.2" font-weight="bold" text-anchor="end" >20</text>
<line x1="288.30" y1="266.32" x2="290.90" y2="266.32" stroke="#151515" stroke-width="1.4"/>
<text x="288.30" y="268.82" fill="#151515" stroke="#151515" stroke-width="0.35" font-size="7.2" font-weight="bold" text-anchor="end" >40</text>
<line x1="288.30" y1="239.38" x2="290.90" y2="239.38" stroke="#151515" stroke-width="1.4"/>
<text x="288.30" y="241.88" fill="#151515" stroke="#151515" stroke-width="0.35" font-size="7.2" font-weight="bold" text-anchor="end" >60</text>
<line x1="288.30" y1="212.44" x2="290.90" y2="212.44" stroke="#151515" stroke-width="1.4"/>
<text x="288.30" y="214.94" fill="#151515" stroke="#151515" stroke-width="0.35" font-size="7.2" font-weight="bold" text-anchor="end" >80</text>
<line x1="288.30" y1="185.50" x2="290.90" y2="185.50" stroke="#151515" stroke-width="1.4"/>
<text x="288.30" y="188.00" fill="#151515" stroke="#151515" stroke-width="0.35" font-size="7.2" font-weight="bold" text-anchor="end" >100</text>
<line x1="289.30" y1="306.73" x2="290.90" y2="306.73" stroke="#151515" stroke-width="1.1"/>
<line x1="289.30" y1="279.79" x2="290.90" y2="279.79" stroke="#151515" stroke-width="1.1"/>
<line x1="289.30" y1="252.85" x2="290.90" y2="252.85" stroke="#151515" stroke-width="1.1"/>
<line x1="289.30" y1="225.91" x2="290.90" y2="225.91" stroke="#151515" stroke-width="1.1"/>
<line x1="289.30" y1="198.97" x2="290.90" y2="198.97" stroke="#151515" stroke-width="1.1"/>
<line x1="290.90" y1="320.20" x2="290.90" y2="322.60" stroke="#151515" stroke-width="1.4"/>
<text x="290.90" y="330.20" fill="#151515" stroke="#151515" stroke-width="0.35" font-size="7.2" font-weight="bold" text-anchor="middle" >0</text>
<line x1="313.12" y1="320.20" x2="313.12" y2="322.60" stroke="#151515" stroke-width="1.4"/>
<text x="313.12" y="330.20" fill="#151515" stroke="#151515" stroke-width="0.35" font-size="7.2" font-weight="bold" text-anchor="middle" >20</text>
<line x1="335.34" y1="320.20" x2="335.34" y2="322.60" stroke="#151515" stroke-width="1.4"/>
<text x="335.34" y="330.20" fill="#151515" stroke="#151515" stroke-width="0.35" font-size="7.2" font-weight="bold" text-anchor="middle" >40</text>
<line x1="357.56" y1="320.20" x2="357.56" y2="322.60" stroke="#151515" stroke-width="1.4"/>
<text x="357.56" y="330.20" fill="#151515" stroke="#151515" stroke-width="0.35" font-size="7.2" font-weight="bold" text-anchor="middle" >60</text>
<line x1="379.78" y1="320.20" x2="379.78" y2="322.60" stroke="#151515" stroke-width="1.4"/>
<text x="379.78" y="330.20" fill="#151515" stroke="#151515" stroke-width="0.35" font-size="7.2" font-weight="bold" text-anchor="middle" >80</text>
<line x1="402.00" y1="320.20" x2="402.00" y2="322.60" stroke="#151515" stroke-width="1.4"/>
<text x="402.00" y="330.20" fill="#151515" stroke="#151515" stroke-width="0.35" font-size="7.2" font-weight="bold" text-anchor="middle" >100</text>
<line x1="424.22" y1="320.20" x2="424.22" y2="322.60" stroke="#151515" stroke-width="1.4"/>
<text x="424.22" y="330.20" fill="#151515" stroke="#151515" stroke-width="0.35" font-size="7.2" font-weight="bold" text-anchor="middle" >120</text>
<line x1="446.44" y1="320.20" x2="446.44" y2="322.60" stroke="#151515" stroke-width="1.4"/>
<text x="446.44" y="330.20" fill="#151515" stroke="#151515" stroke-width="0.35" font-size="7.2" font-weight="bold" text-anchor="middle" >140</text>
<line x1="468.66" y1="320.20" x2="468.66" y2="322.60" stroke="#151515" stroke-width="1.4"/>
<text x="468.66" y="330.20" fill="#151515" stroke="#151515" stroke-width="0.35" font-size="7.2" font-weight="bold" text-anchor="middle" >160</text>
<line x1="490.88" y1="320.20" x2="490.88" y2="322.60" stroke="#151515" stroke-width="1.4"/>
<text x="490.88" y="330.20" fill="#151515" stroke="#151515" stroke-width="0.35" font-size="7.2" font-weight="bold" text-anchor="middle" >180</text>
<line x1="513.10" y1="320.20" x2="513.10" y2="322.60" stroke="#151515" stroke-width="1.4"/>
<text x="513.10" y="330.20" fill="#151515" stroke="#151515" stroke-width="0.35" font-size="7.2" font-weight="bold" text-anchor="middle" >200</text>
<text x="0" y="0" fill="#151515" font-size="8.8" font-weight="normal" stroke="#151515" stroke-width="0.4" text-anchor="middle" transform="translate(272.80,245.30) rotate(-90)">PFS (%)</text>
<text x="265.20" y="178.60" fill="#000" stroke="#000" stroke-width="0.4" font-size="11" font-weight="bold" font-family="Liberation Sans, sans-serif">D</text>
<path d="M291.00 185.50 H297.00 V192.10 H309.70 V197.90 H320.00 V206.50 H326.40 V215.20 H431.40" fill="none" stroke="#3fcc48" stroke-width="1.7" stroke-linejoin="miter" stroke-linecap="butt" />
<line x1="340.00" y1="213.00" x2="340.00" y2="215.20" stroke="#3fcc48" stroke-width="1.0"/>
<line x1="355.00" y1="213.00" x2="355.00" y2="215.20" stroke="#3fcc48" stroke-width="1.0"/>
<line x1="370.00" y1="213.00" x2="370.00" y2="215.20" stroke="#3fcc48" stroke-width="1.0"/>
<line x1="385.00" y1="213.00" x2="385.00" y2="215.20" stroke="#3fcc48" stroke-width="1.0"/>
<line x1="400.00" y1="213.00" x2="400.00" y2="215.20" stroke="#3fcc48" stroke-width="1.0"/>
<line x1="415.00" y1="213.00" x2="415.00" y2="215.20" stroke="#3fcc48" stroke-width="1.0"/>
<path d="M291.00 185.50 H292.00 V200.60 H300.00 V215.60 H306.00 V230.30 H342.80 V260.20 H382.60 V320.20" fill="none" stroke="#1a178a" stroke-width="1.7" stroke-dasharray="3.7 1.9" stroke-linejoin="miter" stroke-linecap="butt" />
<path d="M291.00 185.50 H292.60 V186.84 H294.20 V188.18 H295.80 V189.52 H297.40 V190.86 H299.00 V192.20 H299.50 V200.30 H302.00 V205.00 H303.35 V210.15 H304.70 V215.30 H307.00 V224.50 H308.50 V225.25 H310.00 V226.00 H311.50 V227.50 H313.00 V229.00 H314.50 V230.50 H316.00 V232.00 H317.80 V233.00 H319.60 V234.00 H319.60 V242.70 H324.80 V246.30 H353.80 V250.00 H372.30 V265.00 H387.90 V282.90 H410.80" fill="none" stroke="#2c22c8" stroke-width="1.7" stroke-linejoin="miter" stroke-linecap="butt" />
<line x1="330.00" y1="244.10" x2="330.00" y2="246.30" stroke="#2c22c8" stroke-width="1.0"/>
<line x1="336.00" y1="244.10" x2="336.00" y2="246.30" stroke="#2c22c8" stroke-width="1.0"/>
<line x1="342.00" y1="244.10" x2="342.00" y2="246.30" stroke="#2c22c8" stroke-width="1.0"/>
<line x1="360.00" y1="247.80" x2="360.00" y2="250.00" stroke="#2c22c8" stroke-width="1.0"/>
<line x1="366.00" y1="247.80" x2="366.00" y2="250.00" stroke="#2c22c8" stroke-width="1.0"/>
<line x1="398.00" y1="280.70" x2="398.00" y2="282.90" stroke="#2c22c8" stroke-width="1.0"/>
<line x1="405.00" y1="280.70" x2="405.00" y2="282.90" stroke="#2c22c8" stroke-width="1.0"/>
<path d="M291.00 185.50 H292.00 V189.00 H294.00 V198.00 H296.00 V207.00 H298.00 V209.00 H300.00 V211.00 H302.00 V220.00 H304.00 V228.00 H306.00 V233.00 H307.50 V235.50 H309.00 V238.00 H310.00 V243.00 H311.50 V246.50 H313.00 V250.00 H314.50 V252.75 H316.00 V255.50 H322.00 V258.00 H323.60 V260.00 H325.20 V262.00 H326.80 V264.00 H328.40 V266.00 H330.00 V268.00 H338.00 V268.00 H339.57 V270.66 H341.14 V273.31 H342.71 V275.97 H344.29 V278.63 H345.86 V281.29 H347.43 V283.94 H349.00 V286.60 H396.30" fill="none" stroke="#d0256f" stroke-width="1.7" stroke-dasharray="3.7 1.9" stroke-linejoin="miter" stroke-linecap="butt" />
<text x="396.25" y="204.25" fill="#2ec83a" stroke="#2ec83a" stroke-width="0.35" font-size="9.25" font-weight="bold" text-anchor="start" >MUT-p53, p53-/MDM2- (n=21)</text>
<text x="398.30" y="266.20" fill="#1a178a" stroke="#1a178a" stroke-width="0.35" font-size="9.25" font-weight="bold" text-anchor="start" >MUT-p53, p53-/MDM2+ (n=9)</text>
<text x="394.00" y="278.30" fill="#2c22c8" stroke="#2c22c8" stroke-width="0.35" font-size="9.25" font-weight="bold" text-anchor="start" >MUT-p53, p53+/MDM2- (n=47)</text>
<text x="393.00" y="302.00" fill="#d0256f" stroke="#d0256f" stroke-width="0.35" font-size="9.25" font-weight="bold" text-anchor="start" >MUT-p53, p53+/MDM2+ (n=28)</text>
<text x="306.50" y="303.50" fill="#111" stroke="#111" stroke-width="0.4" font-size="9.2" font-weight="bold"><tspan font-style="italic">P</tspan>=0.0088</text>
<line x1="24.20" y1="343.80" x2="24.20" y2="492.90" stroke="#151515" stroke-width="1.5"/>
<line x1="23.50" y1="492.30" x2="246.30" y2="492.30" stroke="#151515" stroke-width="1.5"/>
<line x1="21.60" y1="492.30" x2="24.20" y2="492.30" stroke="#151515" stroke-width="1.4"/>
<text x="21.60" y="494.80" fill="#151515" stroke="#151515" stroke-width="0.35" font-size="7.2" font-weight="bold" text-anchor="end" >0</text>
<line x1="21.60" y1="465.38" x2="24.20" y2="465.38" stroke="#151515" stroke-width="1.4"/>
<text x="21.60" y="467.88" fill="#151515" stroke="#151515" stroke-width="0.35" font-size="7.2" font-weight="bold" text-anchor="end" >20</text>
<line x1="21.60" y1="438.46" x2="24.20" y2="438.46" stroke="#151515" stroke-width="1.4"/>
<text x="21.60" y="440.96" fill="#151515" stroke="#151515" stroke-width="0.35" font-size="7.2" font-weight="bold" text-anchor="end" >40</text>
<line x1="21.60" y1="411.54" x2="24.20" y2="411.54" stroke="#151515" stroke-width="1.4"/>
<text x="21.60" y="414.04" fill="#151515" stroke="#151515" stroke-width="0.35" font-size="7.2" font-weight="bold" text-anchor="end" >60</text>
<line x1="21.60" y1="384.62" x2="24.20" y2="384.62" stroke="#151515" stroke-width="1.4"/>
<text x="21.60" y="387.12" fill="#151515" stroke="#151515" stroke-width="0.35" font-size="7.2" font-weight="bold" text-anchor="end" >80</text>
<line x1="21.60" y1="357.70" x2="24.20" y2="357.70" stroke="#151515" stroke-width="1.4"/>
<text x="21.60" y="360.20" fill="#151515" stroke="#151515" stroke-width="0.35" font-size="7.2" font-weight="bold" text-anchor="end" >100</text>
<line x1="22.60" y1="478.84" x2="24.20" y2="478.84" stroke="#151515" stroke-width="1.1"/>
<line x1="22.60" y1="451.92" x2="24.20" y2="451.92" stroke="#151515" stroke-width="1.1"/>
<line x1="22.60" y1="425.00" x2="24.20" y2="425.00" stroke="#151515" stroke-width="1.1"/>
<line x1="22.60" y1="398.08" x2="24.20" y2="398.08" stroke="#151515" stroke-width="1.1"/>
<line x1="22.60" y1="371.16" x2="24.20" y2="371.16" stroke="#151515" stroke-width="1.1"/>
<line x1="24.20" y1="492.30" x2="24.20" y2="494.70" stroke="#151515" stroke-width="1.4"/>
<text x="24.20" y="502.30" fill="#151515" stroke="#151515" stroke-width="0.35" font-size="7.2" font-weight="bold" text-anchor="middle" >0</text>
<line x1="46.35" y1="492.30" x2="46.35" y2="494.70" stroke="#151515" stroke-width="1.4"/>
<text x="46.35" y="502.30" fill="#151515" stroke="#151515" stroke-width="0.35" font-size="7.2" font-weight="bold" text-anchor="middle" >20</text>
<line x1="68.50" y1="492.30" x2="68.50" y2="494.70" stroke="#151515" stroke-width="1.4"/>
<text x="68.50" y="502.30" fill="#151515" stroke="#151515" stroke-width="0.35" font-size="7.2" font-weight="bold" text-anchor="middle" >40</text>
<line x1="90.65" y1="492.30" x2="90.65" y2="494.70" stroke="#151515" stroke-width="1.4"/>
<text x="90.65" y="502.30" fill="#151515" stroke="#151515" stroke-width="0.35" font-size="7.2" font-weight="bold" text-anchor="middle" >60</text>
<line x1="112.80" y1="492.30" x2="112.80" y2="494.70" stroke="#151515" stroke-width="1.4"/>
<text x="112.80" y="502.30" fill="#151515" stroke="#151515" stroke-width="0.35" font-size="7.2" font-weight="bold" text-anchor="middle" >80</text>
<line x1="134.95" y1="492.30" x2="134.95" y2="494.70" stroke="#151515" stroke-width="1.4"/>
<text x="134.95" y="502.30" fill="#151515" stroke="#151515" stroke-width="0.35" font-size="7.2" font-weight="bold" text-anchor="middle" >100</text>
<line x1="157.10" y1="492.30" x2="157.10" y2="494.70" stroke="#151515" stroke-width="1.4"/>
<text x="157.10" y="502.30" fill="#151515" stroke="#151515" stroke-width="0.35" font-size="7.2" font-weight="bold" text-anchor="middle" >120</text>
<line x1="179.25" y1="492.30" x2="179.25" y2="494.70" stroke="#151515" stroke-width="1.4"/>
<text x="179.25" y="502.30" fill="#151515" stroke="#151515" stroke-width="0.35" font-size="7.2" font-weight="bold" text-anchor="middle" >140</text>
<line x1="201.40" y1="492.30" x2="201.40" y2="494.70" stroke="#151515" stroke-width="1.4"/>
<text x="201.40" y="502.30" fill="#151515" stroke="#151515" stroke-width="0.35" font-size="7.2" font-weight="bold" text-anchor="middle" >160</text>
<line x1="223.55" y1="492.30" x2="223.55" y2="494.70" stroke="#151515" stroke-width="1.4"/>
<text x="223.55" y="502.30" fill="#151515" stroke="#151515" stroke-width="0.35" font-size="7.2" font-weight="bold" text-anchor="middle" >180</text>
<line x1="245.70" y1="492.30" x2="245.70" y2="494.70" stroke="#151515" stroke-width="1.4"/>
<text x="245.70" y="502.30" fill="#151515" stroke="#151515" stroke-width="0.35" font-size="7.2" font-weight="bold" text-anchor="middle" >200</text>
<text x="0" y="0" fill="#151515" font-size="8.8" font-weight="normal" stroke="#151515" stroke-width="0.4" text-anchor="middle" transform="translate(5.80,417.05) rotate(-90)">OS (%)</text>
<text x="-1.30" y="352.70" fill="#000" stroke="#000" stroke-width="0.4" font-size="11" font-weight="bold" font-family="Liberation Sans, sans-serif">E</text>
<path d="M24.00 357.70 H40.80 V363.80 H42.50 V369.40 H52.90 V377.10 H78.80 V387.80 H163.70" fill="none" stroke="#3fcc48" stroke-width="1.7" stroke-linejoin="miter" stroke-linecap="butt" />
<line x1="95.00" y1="385.60" x2="95.00" y2="387.80" stroke="#3fcc48" stroke-width="1.0"/>
<line x1="110.00" y1="385.60" x2="110.00" y2="387.80" stroke="#3fcc48" stroke-width="1.0"/>
<line x1="125.00" y1="385.60" x2="125.00" y2="387.80" stroke="#3fcc48" stroke-width="1.0"/>
<line x1="140.00" y1="385.60" x2="140.00" y2="387.80" stroke="#3fcc48" stroke-width="1.0"/>
<line x1="155.00" y1="385.60" x2="155.00" y2="387.80" stroke="#3fcc48" stroke-width="1.0"/>
<line x1="163.00" y1="385.60" x2="163.00" y2="387.80" stroke="#3fcc48" stroke-width="1.0"/>
<path d="M24.00 357.70 H25.50 V358.85 H27.00 V360.00 H29.00 V364.00 H31.00 V368.00 H33.00 V369.00 H34.00 V372.00 H36.00 V382.00 H38.00 V392.00 H40.00 V396.00 H42.00 V400.00 H43.25 V402.25 H44.50 V404.50 H46.00 V406.67 H47.50 V408.83 H49.00 V411.00 H50.80 V413.43 H52.60 V415.87 H54.40 V418.30 H55.80 V419.35 H57.20 V420.40 H58.60 V421.45 H60.00 V422.50 H61.50 V423.00 H63.00 V423.50 H72.00 V423.00 H73.50 V424.75 H75.00 V426.50 H76.50 V428.25 H78.00 V430.00 H79.60 V430.70 H81.20 V431.40 H82.80 V432.10 H84.40 V432.80 H86.00 V433.50 H87.64 V433.59 H89.27 V433.68 H90.91 V433.77 H92.55 V433.86 H94.18 V433.95 H95.82 V434.05 H97.45 V434.14 H99.09 V434.23 H100.73 V434.32 H102.36 V434.41 H104.00 V434.50 H106.00 V442.50 H113.00 V442.50 H116.00 V449.40 H121.00 V458.00 H144.00" fill="none" stroke="#1a178a" stroke-width="1.5" stroke-dasharray="4.5 1" stroke-linejoin="miter" stroke-linecap="butt" />
<text x="89.80" y="370.10" fill="#2ec83a" stroke="#2ec83a" stroke-width="0.35" font-size="9.33" font-weight="bold" text-anchor="start" >MUT-p53, p53 &amp; MDM2 ≤10% (n=21)</text>
<line x1="125.00" y1="456.20" x2="125.00" y2="458.00" stroke="#1a178a" stroke-width="1.0"/>
<line x1="129.00" y1="456.20" x2="129.00" y2="458.00" stroke="#1a178a" stroke-width="1.0"/>
<line x1="133.00" y1="456.20" x2="133.00" y2="458.00" stroke="#1a178a" stroke-width="1.0"/>
<line x1="137.00" y1="456.20" x2="137.00" y2="458.00" stroke="#1a178a" stroke-width="1.0"/>
<line x1="141.00" y1="456.20" x2="141.00" y2="458.00" stroke="#1a178a" stroke-width="1.0"/>
<line x1="99.00" y1="432.70" x2="99.00" y2="434.50" stroke="#1a178a" stroke-width="1.0"/>
<line x1="102.00" y1="432.70" x2="102.00" y2="434.50" stroke="#1a178a" stroke-width="1.0"/>
<text x="89.80" y="475.10" fill="#1a178a" stroke="#1a178a" stroke-width="0.35" font-size="9.25" font-weight="bold" text-anchor="start" >MUT-p53, p53 or MDM2 &gt;10% (n=84)</text>
<text x="39.50" y="475.60" fill="#111" stroke="#111" stroke-width="0.4" font-size="9.2" font-weight="bold"><tspan font-style="italic">P</tspan>=0.0029</text>
<line x1="290.90" y1="343.80" x2="290.90" y2="492.90" stroke="#151515" stroke-width="1.5"/>
<line x1="290.20" y1="492.30" x2="513.70" y2="492.30" stroke="#151515" stroke-width="1.5"/>
<line x1="288.30" y1="492.30" x2="290.90" y2="492.30" stroke="#151515" stroke-width="1.4"/>
<text x="288.30" y="494.80" fill="#151515" stroke="#151515" stroke-width="0.35" font-size="7.2" font-weight="bold" text-anchor="end" >0</text>
<line x1="288.30" y1="465.40" x2="290.90" y2="465.40" stroke="#151515" stroke-width="1.4"/>
<text x="288.30" y="467.90" fill="#151515" stroke="#151515" stroke-width="0.35" font-size="7.2" font-weight="bold" text-anchor="end" >20</text>
<line x1="288.30" y1="438.50" x2="290.90" y2="438.50" stroke="#151515" stroke-width="1.4"/>
<text x="288.30" y="441.00" fill="#151515" stroke="#151515" stroke-width="0.35" font-size="7.2" font-weight="bold" text-anchor="end" >40</text>
<line x1="288.30" y1="411.60" x2="290.90" y2="411.60" stroke="#151515" stroke-width="1.4"/>
<text x="288.30" y="414.10" fill="#151515" stroke="#151515" stroke-width="0.35" font-size="7.2" font-weight="bold" text-anchor="end" >60</text>
<line x1="288.30" y1="384.70" x2="290.90" y2="384.70" stroke="#151515" stroke-width="1.4"/>
<text x="288.30" y="387.20" fill="#151515" stroke="#151515" stroke-width="0.35" font-size="7.2" font-weight="bold" text-anchor="end" >80</text>
<line x1="288.30" y1="357.80" x2="290.90" y2="357.80" stroke="#151515" stroke-width="1.4"/>
<text x="288.30" y="360.30" fill="#151515" stroke="#151515" stroke-width="0.35" font-size="7.2" font-weight="bold" text-anchor="end" >100</text>
<line x1="289.30" y1="478.85" x2="290.90" y2="478.85" stroke="#151515" stroke-width="1.1"/>
<line x1="289.30" y1="451.95" x2="290.90" y2="451.95" stroke="#151515" stroke-width="1.1"/>
<line x1="289.30" y1="425.05" x2="290.90" y2="425.05" stroke="#151515" stroke-width="1.1"/>
<line x1="289.30" y1="398.15" x2="290.90" y2="398.15" stroke="#151515" stroke-width="1.1"/>
<line x1="289.30" y1="371.25" x2="290.90" y2="371.25" stroke="#151515" stroke-width="1.1"/>
<line x1="290.90" y1="492.30" x2="290.90" y2="494.70" stroke="#151515" stroke-width="1.4"/>
<text x="290.90" y="502.30" fill="#151515" stroke="#151515" stroke-width="0.35" font-size="7.2" font-weight="bold" text-anchor="middle" >0</text>
<line x1="313.12" y1="492.30" x2="313.12" y2="494.70" stroke="#151515" stroke-width="1.4"/>
<text x="313.12" y="502.30" fill="#151515" stroke="#151515" stroke-width="0.35" font-size="7.2" font-weight="bold" text-anchor="middle" >20</text>
<line x1="335.34" y1="492.30" x2="335.34" y2="494.70" stroke="#151515" stroke-width="1.4"/>
<text x="335.34" y="502.30" fill="#151515" stroke="#151515" stroke-width="0.35" font-size="7.2" font-weight="bold" text-anchor="middle" >40</text>
<line x1="357.56" y1="492.30" x2="357.56" y2="494.70" stroke="#151515" stroke-width="1.4"/>
<text x="357.56" y="502.30" fill="#151515" stroke="#151515" stroke-width="0.35" font-size="7.2" font-weight="bold" text-anchor="middle" >60</text>
<line x1="379.78" y1="492.30" x2="379.78" y2="494.70" stroke="#151515" stroke-width="1.4"/>
<text x="379.78" y="502.30" fill="#151515" stroke="#151515" stroke-width="0.35" font-size="7.2" font-weight="bold" text-anchor="middle" >80</text>
<line x1="402.00" y1="492.30" x2="402.00" y2="494.70" stroke="#151515" stroke-width="1.4"/>
<text x="402.00" y="502.30" fill="#151515" stroke="#151515" stroke-width="0.35" font-size="7.2" font-weight="bold" text-anchor="middle" >100</text>
<line x1="424.22" y1="492.30" x2="424.22" y2="494.70" stroke="#151515" stroke-width="1.4"/>
<text x="424.22" y="502.30" fill="#151515" stroke="#151515" stroke-width="0.35" font-size="7.2" font-weight="bold" text-anchor="middle" >120</text>
<line x1="446.44" y1="492.30" x2="446.44" y2="494.70" stroke="#151515" stroke-width="1.4"/>
<text x="446.44" y="502.30" fill="#151515" stroke="#151515" stroke-width="0.35" font-size="7.2" font-weight="bold" text-anchor="middle" >140</text>
<line x1="468.66" y1="492.30" x2="468.66" y2="494.70" stroke="#151515" stroke-width="1.4"/>
<text x="468.66" y="502.30" fill="#151515" stroke="#151515" stroke-width="0.35" font-size="7.2" font-weight="bold" text-anchor="middle" >160</text>
<line x1="490.88" y1="492.30" x2="490.88" y2="494.70" stroke="#151515" stroke-width="1.4"/>
<text x="490.88" y="502.30" fill="#151515" stroke="#151515" stroke-width="0.35" font-size="7.2" font-weight="bold" text-anchor="middle" >180</text>
<line x1="513.10" y1="492.30" x2="513.10" y2="494.70" stroke="#151515" stroke-width="1.4"/>
<text x="513.10" y="502.30" fill="#151515" stroke="#151515" stroke-width="0.35" font-size="7.2" font-weight="bold" text-anchor="middle" >200</text>
<text x="0" y="0" fill="#151515" font-size="8.8" font-weight="normal" stroke="#151515" stroke-width="0.4" text-anchor="middle" transform="translate(272.80,417.05) rotate(-90)">PFS (%)</text>
<text x="264.60" y="352.60" fill="#000" stroke="#000" stroke-width="0.4" font-size="11" font-weight="bold" font-family="Liberation Sans, sans-serif">F</text>
<path d="M291.00 357.80 H298.10 V364.40 H309.70 V369.80 H319.70 V378.00 H326.40 V387.20 H431.00" fill="none" stroke="#3fcc48" stroke-width="1.7" stroke-linejoin="miter" stroke-linecap="butt" />
<line x1="340.00" y1="385.00" x2="340.00" y2="387.20" stroke="#3fcc48" stroke-width="1.0"/>
<line x1="355.00" y1="385.00" x2="355.00" y2="387.20" stroke="#3fcc48" stroke-width="1.0"/>
<line x1="370.00" y1="385.00" x2="370.00" y2="387.20" stroke="#3fcc48" stroke-width="1.0"/>
<line x1="385.00" y1="385.00" x2="385.00" y2="387.20" stroke="#3fcc48" stroke-width="1.0"/>
<line x1="400.00" y1="385.00" x2="400.00" y2="387.20" stroke="#3fcc48" stroke-width="1.0"/>
<line x1="415.00" y1="385.00" x2="415.00" y2="387.20" stroke="#3fcc48" stroke-width="1.0"/>
<path d="M291.00 357.80 H293.00 V360.00 H294.50 V365.00 H296.00 V370.00 H297.50 V374.00 H299.00 V378.00 H300.25 V385.50 H301.50 V393.00 H303.25 V399.00 H305.00 V405.00 H306.67 V406.33 H308.33 V407.67 H310.00 V409.00 H312.00 V412.50 H314.00 V416.00 H315.50 V417.50 H317.00 V419.00 H318.50 V420.50 H320.00 V422.00 H321.60 V422.80 H323.20 V423.60 H324.80 V424.40 H326.40 V425.20 H328.00 V426.00 H329.50 V426.17 H331.00 V426.34 H332.50 V426.51 H334.00 V426.69 H335.50 V426.86 H337.00 V427.03 H338.50 V427.20 H340.23 V428.57 H341.95 V429.95 H343.67 V431.32 H345.40 V432.70 H346.95 V433.45 H348.50 V434.20 H350.25 V435.10 H352.00 V436.00 H368.50 V437.90 H371.30 V447.10 H380.60 V453.50 H387.50 V463.80 H401.90" fill="none" stroke="#1a178a" stroke-width="1.5" stroke-dasharray="4.5 1" stroke-linejoin="miter" stroke-linecap="butt" />
<text x="356.90" y="370.40" fill="#2ec83a" stroke="#2ec83a" stroke-width="0.35" font-size="9.33" font-weight="bold" text-anchor="start" >MUT-p53, p53 &amp; MDM2 ≤10% (n=21)</text>
<line x1="391.00" y1="462.00" x2="391.00" y2="463.80" stroke="#1a178a" stroke-width="1.0"/>
<line x1="394.50" y1="462.00" x2="394.50" y2="463.80" stroke="#1a178a" stroke-width="1.0"/>
<line x1="398.00" y1="462.00" x2="398.00" y2="463.80" stroke="#1a178a" stroke-width="1.0"/>
<line x1="401.00" y1="462.00" x2="401.00" y2="463.80" stroke="#1a178a" stroke-width="1.0"/>
<line x1="357.00" y1="436.10" x2="357.00" y2="437.90" stroke="#1a178a" stroke-width="1.0"/>
<line x1="361.00" y1="436.10" x2="361.00" y2="437.90" stroke="#1a178a" stroke-width="1.0"/>
<line x1="365.00" y1="436.10" x2="365.00" y2="437.90" stroke="#1a178a" stroke-width="1.0"/>
<text x="356.80" y="475.10" fill="#1a178a" stroke="#1a178a" stroke-width="0.35" font-size="9.25" font-weight="bold" text-anchor="start" >MUT-p53, p53 or MDM2 &gt;10% (n=84)</text>
<text x="306.50" y="475.60" fill="#111" stroke="#111" stroke-width="0.4" font-size="9.2" font-weight="bold"><tspan font-style="italic">P</tspan>=0.0027</text>
<text x="132.05" y="519.60" fill="#151515" stroke="#151515" stroke-width="0.35" font-size="10.2" font-weight="bold" text-anchor="middle" >Months</text>
<text x="402.30" y="519.60" fill="#151515" stroke="#151515" stroke-width="0.35" font-size="10.2" font-weight="bold" text-anchor="middle" >Months</text>
</svg></body></html>
